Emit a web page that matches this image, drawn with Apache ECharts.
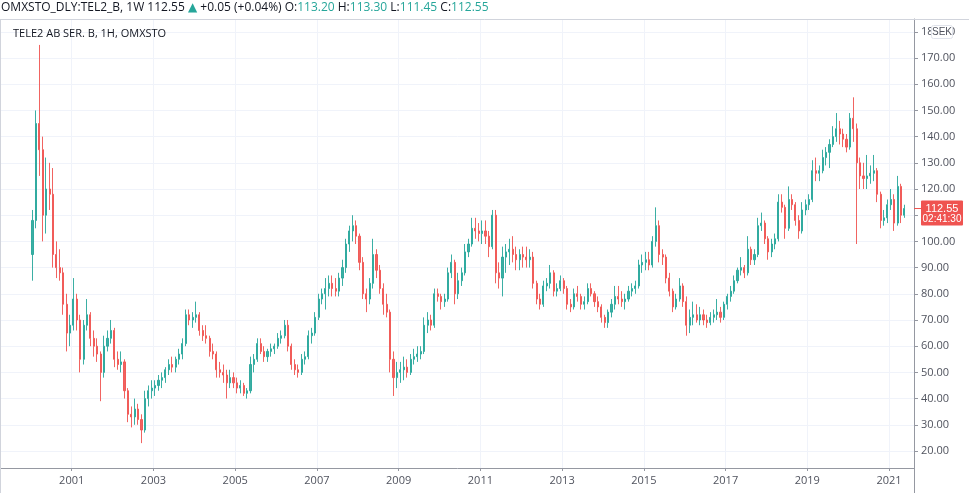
<!DOCTYPE html>
<html>
<head>
<meta charset="utf-8">
<script src="https://cdn.jsdelivr.net/npm/echarts@6/dist/echarts.min.js"></script>
<style>
  html, body { margin: 0; padding: 0; background: #fff; }
  #chart { width: 969px; height: 493px; }
</style>
</head>
<body>
<div id="chart"></div>
<script>

    // monthly candles, Jan 2000 .. May 2021 (one row per year)
    const startYear = 2000
    const firstOpen = 95

    const closes = [
        108, 145, 135, 110, 120, 118, 95, 90, 88, 76, 65, 68,
        78, 70, 55, 68, 72, 63, 60, 57, 50, 60, 63, 66,
        55, 53, 54, 43, 34, 33, 36, 32, 28, 40, 43, 44,
        45, 47, 48, 51, 53, 52, 55, 57, 61, 72, 70, 71,
        72, 66, 64, 63, 58, 57, 51, 50, 49, 46, 48, 46,
        44, 45, 42, 43, 53, 55, 61, 58, 56, 58, 59, 60,
        63, 64, 68, 60, 53, 51, 50, 55, 56, 64, 65, 71,
        78, 80, 82, 84, 82, 81, 86, 90, 99, 104, 106, 102,
        92, 80, 78, 84, 95, 89, 82, 76, 73, 55, 48, 50,
        51, 52, 50, 55, 56, 57, 58, 68, 70, 68, 80, 79,
        77, 78, 88, 92, 80, 85, 88, 96, 99, 105, 104, 103,
        104, 102, 98, 110, 88, 86, 94, 96, 97, 95, 93, 95,
        94, 93, 94, 84, 78, 76, 83, 84, 88, 81, 82, 85,
        82, 76, 75, 80, 79, 76, 77, 82, 80, 77, 75, 71,
        69, 73, 76, 79, 78, 77, 78, 81, 82, 83, 91, 92,
        93, 91, 100, 106, 95, 94, 86, 81, 75, 78, 83, 77,
        68, 71, 72, 70, 72, 70, 69, 71, 72, 73, 71, 76,
        79, 81, 85, 89, 90, 88, 97, 93, 95, 106, 107, 101,
        96, 99, 101, 115, 113, 105, 116, 114, 108, 104, 112, 114,
        116, 127, 126, 127, 132, 134, 137, 140, 143, 141, 139, 136,
        147, 143, 130, 125, 124, 125, 126, 127, 118, 108, 109, 114,
        116, 107, 121, 110, 112.55
    ]

    const highs = [
        112, 150, 175, 140, 132, 130, 128, 100, 97, 90, 80, 72,
        86, 80, 72, 70, 78, 73, 66, 63, 58, 64, 66, 70,
        67, 58, 58, 55, 44, 37, 40, 38, 34, 43, 45, 47,
        47, 49, 50, 52, 55, 56, 56, 59, 63, 74, 74, 73,
        77, 73, 68, 68, 64, 61, 58, 54, 53, 51, 51, 50,
        48, 47, 46, 44, 56, 57, 63, 63, 60, 59, 61, 61,
        65, 66, 70, 70, 61, 55, 53, 57, 58, 66, 67, 73,
        80, 82, 86, 87, 87, 86, 88, 93, 101, 106, 110, 108,
        103, 94, 82, 86, 101, 97, 91, 84, 80, 74, 58, 54,
        54, 56, 55, 57, 59, 60, 60, 71, 73, 72, 82, 82,
        80, 80, 90, 95, 93, 88, 90, 99, 101, 109, 109, 107,
        108, 108, 104, 112, 112, 92, 98, 99, 101, 102, 98, 97,
        98, 98, 97, 96, 85, 80, 85, 86, 91, 89, 84, 87,
        86, 83, 78, 82, 83, 80, 79, 84, 84, 81, 79, 76,
        72, 74, 78, 83, 83, 81, 80, 83, 84, 85, 93, 95,
        96, 96, 102, 113, 108, 97, 95, 88, 82, 80, 86, 84,
        79, 74, 77, 76, 75, 74, 72, 73, 74, 78, 75, 77,
        80, 83, 87, 90, 94, 91, 102, 98, 97, 109, 111, 108,
        102, 101, 103, 118, 118, 114, 121, 118, 115, 110, 115, 116,
        118, 131, 132, 129, 135, 136, 139, 144, 149, 146, 143, 141,
        149, 155, 145, 132, 130, 133, 129, 133, 128, 119, 112, 116,
        120, 118, 125, 122, 114
    ]

    const lows = [
        85, 105, 125, 100, 103, 112, 90, 86, 85, 72, 58, 60,
        66, 66, 50, 53, 66, 60, 56, 54, 39, 48, 58, 61,
        52, 51, 50, 40, 31, 29, 30, 30, 23, 27, 37, 40,
        41, 43, 44, 46, 49, 50, 50, 53, 55, 60, 68, 67,
        69, 64, 62, 61, 56, 55, 48, 48, 46, 40, 44, 44,
        42, 42, 41, 40, 42, 50, 54, 57, 54, 54, 56, 57,
        59, 61, 63, 58, 51, 49, 48, 49, 53, 55, 61, 64,
        70, 76, 74, 79, 79, 79, 79, 83, 88, 96, 100, 99,
        89, 78, 73, 76, 82, 86, 80, 72, 71, 50, 41, 44,
        46, 47, 48, 49, 53, 54, 55, 57, 65, 66, 67, 77,
        74, 75, 77, 86, 76, 78, 83, 87, 94, 98, 101, 100,
        99, 99, 94, 97, 84, 82, 79, 88, 91, 92, 89, 89,
        90, 90, 90, 82, 76, 74, 75, 81, 82, 79, 79, 81,
        80, 74, 73, 74, 77, 74, 74, 76, 79, 75, 73, 69,
        67, 67, 71, 74, 76, 75, 74, 77, 79, 80, 82, 88,
        89, 89, 90, 98, 92, 91, 84, 79, 73, 74, 77, 75,
        64, 65, 68, 69, 68, 68, 67, 68, 69, 70, 69, 70,
        74, 77, 80, 84, 87, 86, 87, 91, 91, 94, 104, 99,
        93, 94, 97, 100, 111, 101, 104, 112, 106, 101, 103, 110,
        112, 115, 123, 123, 126, 129, 128, 136, 138, 137, 136, 134,
        135, 138, 99, 120, 120, 120, 122, 123, 115, 105, 106, 107,
        112, 104, 106, 107, 109
    ]

    const yearTicks = [2001, 2003, 2005, 2007, 2009, 2011, 2013, 2015, 2017, 2019, 2021]

    const lastPrice = 112.55
    const lastTimer = '02:41:30'

    // month -> decimal year (middle of the month), open = previous close
    let candles = []
    for (let i = 0; i < closes.length; i++) {
        let x = startYear + Math.floor(i / 12) + (i % 12 + 0.5) / 12
        let open = i === 0 ? firstOpen : closes[i - 1]
        candles.push([x, open, closes[i], lows[i], highs[i]])
    }

    const up = '#26a69a'
    const down = '#ef5350'
    const txt = '#131722'
    const axisTxt = '#50535e'
    const gridCol = '#f0f3fa'
    const axisCol = '#9598a1'
    const font = '"Open Sans", "Noto Sans", sans-serif'
    const narrow = '"Liberation Sans", Arial, sans-serif'

    let myChart = echarts.init(document.getElementById('chart'))

    myChart.setOption({
        animation: false,
        backgroundColor: '#fff',
        textStyle: { fontFamily: font },
        title: [{
            left: 1,
            top: 2,
            padding: 0,
            text: '{a|OMXSTO_DLY:TEL2_B, 1W 112.55} {t|▲} {a|+0.05 (+0.04%) O:}{g|113.20} {a|H:}{g|113.30} {a|L:}{g|111.45} {a|C:}{g|112.55}',
            textStyle: {
                fontWeight: 'normal',
                fontSize: 12,
                rich: {
                    a: { color: txt, fontSize: 12, fontWeight: 'normal', fontFamily: font },
                    g: { color: up, fontSize: 12, fontWeight: 'normal', fontFamily: font },
                    t: { color: up, fontSize: 12, fontWeight: 'normal', fontFamily: '"DejaVu Sans", sans-serif' }
                }
            }
        }, {
            left: 13,
            top: 28,
            padding: 0,
            text: 'TELE2 AB SER. B, 1H, OMXSTO',
            textStyle: { color: txt, fontSize: 11, fontWeight: 'normal', fontFamily: font }
        }],
        grid: {
            left: 1,
            right: 55,
            top: 19,
            bottom: 25
        },
        xAxis: {
            type: 'value',
            min: 1999.27,
            max: 2021.61,
            axisLine: { show: true, onZero: false, lineStyle: { color: axisCol } },
            axisTick: { show: true, length: 3, customValues: yearTicks, lineStyle: { color: axisCol } },
            axisLabel: {
                customValues: yearTicks,
                formatter: v => String(Math.round(v)),
                color: axisTxt,
                fontSize: 11,
                margin: 7
            },
            splitLine: { show: true, lineStyle: { color: gridCol } }
        },
        yAxis: {
            type: 'value',
            position: 'right',
            min: 13.5,
            max: 184.9,
            splitNumber: 17,
            minInterval: 10,
            maxInterval: 10,
            scale: true,
            axisLine: { show: true, lineStyle: { color: axisCol } },
            axisTick: { show: true, length: 4, lineStyle: { color: axisCol } },
            axisLabel: {
                formatter: v => v.toFixed(2),
                showMinLabel: false,
                showMaxLabel: false,
                color: axisTxt,
                fontSize: 11,
                margin: 7
            },
            splitLine: { show: true, lineStyle: { color: gridCol } }
        },
        series: [{
            type: 'candlestick',
            barWidth: 1.6,
            encode: { x: 0, y: [1, 2, 3, 4] },
            itemStyle: {
                color: up,
                color0: down,
                borderColor: up,
                borderColor0: down,
                borderWidth: 1,
                opacity: 0.9
            },
            data: candles
        }]
    })

    // price label / frame, placed from the axis scale
    let py = myChart.convertToPixel({ yAxisIndex: 0 }, lastPrice)

    myChart.setOption({
        graphic: [
            { type: 'line', z: 100, shape: { x1: 0, y1: 19.5, x2: 969, y2: 19.5 }, style: { stroke: '#d1d4dc', lineWidth: 1 } },
            { type: 'line', z: 100, shape: { x1: 0.5, y1: 19, x2: 0.5, y2: 493 }, style: { stroke: '#d1d4dc', lineWidth: 1 } },
            { type: 'line', z: 100, shape: { x1: 914.5, y1: 468, x2: 914.5, y2: 493 }, style: { stroke: axisCol, lineWidth: 1 } },
            { type: 'rect', z: 100, shape: { x: 931.5, y: 25.5, width: 21, height: 13, r: 2 }, style: { fill: '#fff', stroke: '#e0e3eb' } },
            { type: 'text', z: 101, x: 942, y: 32.5, style: { text: 'SEK', fill: axisTxt, fontSize: 10, fontFamily: narrow, align: 'center', verticalAlign: 'middle' } },
            { type: 'line', z: 100, shape: { x1: 914, y1: py, x2: 921, y2: py }, style: { stroke: down, lineWidth: 1 } },
            { type: 'rect', z: 100, shape: { x: 921, y: py - 8, width: 42, height: 25, r: 1 }, style: { fill: down } },
            { type: 'text', z: 101, x: 942, y: py, style: { text: lastPrice.toFixed(2), fill: '#fff', fontSize: 11, fontFamily: narrow, align: 'center', verticalAlign: 'middle' } },
            { type: 'text', z: 101, x: 942, y: py + 11, style: { text: lastTimer, fill: '#fff', fontSize: 10, fontFamily: narrow, align: 'center', verticalAlign: 'middle' } }
        ]
    })

</script>
</body>
</html>
